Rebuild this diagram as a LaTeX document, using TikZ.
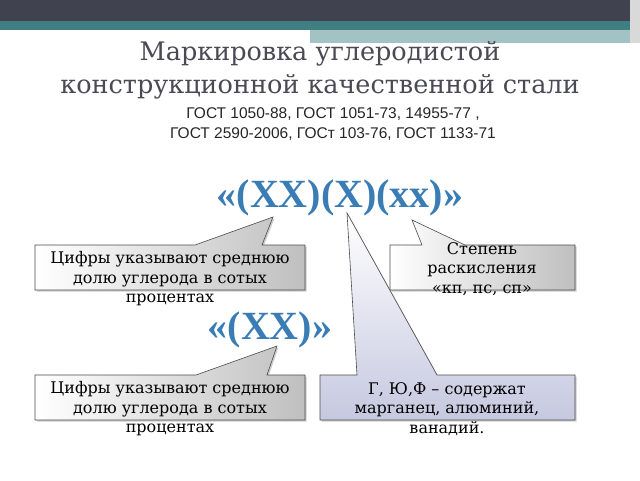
\documentclass[tikz,border=0pt]{standalone}
\usepackage{fontspec}
\setmainfont{DejaVu Serif}
\newfontfamily\gostfont{Liberation Sans}
\newfontfamily\bigfont{Liberation Serif}
\usetikzlibrary{shadows}
\definecolor{hdark}{HTML}{41424F}
\definecolor{hteal}{HTML}{3F7F82}
\definecolor{hlight}{HTML}{A3C2C4}
\definecolor{titlec}{HTML}{4A4A55}
\definecolor{bigblue}{HTML}{3A7DB5}
\definecolor{lav}{HTML}{C6C8E0}
\tikzset{
  calloutg/.style={left color=white,right color=black!25,draw=black!70,line width=0.6pt,drop shadow={shadow xshift=1.5pt,shadow yshift=-1.5pt,opacity=0.4}},
  calloutl/.style={top color=white,bottom color=lav,draw=black!70,line width=0.6pt,drop shadow={shadow xshift=1.5pt,shadow yshift=-1.5pt,opacity=0.4}},
  boxtext/.style={align=center,font=\fontsize{16}{19.5}\selectfont,text=black,inner sep=0pt},
  big/.style={font=\bigfont\bfseries\fontsize{40}{40}\selectfont,text=bigblue,inner sep=0pt}
}
\begin{document}
\begin{tikzpicture}[x=1pt,y=-1pt]
\useasboundingbox (0,0) rectangle (640,480);
\fill[white] (0,0) rectangle (640,480);
% header
\fill[hdark] (0,0) rectangle (640,21);
\fill[hteal] (0,21) rectangle (640,30);
\fill[hlight] (310,30) rectangle (640,43);
\fill[black!15] (630,0) rectangle (640,43);
% titles
\node[align=center,text=titlec,font=\fontsize{25.5}{33}\selectfont] (title) at (320,70) {Маркировка углеродистой\\конструкционной качественной стали};
\node[align=center,text=black!85,font=\gostfont\fontsize{15.5}{20}\selectfont] (gost) at (333,124) {ГОСТ 1050-88, ГОСТ 1051-73, 14955-77 ,\\ГОСТ 2590-2006, ГОСт 103-76, ГОСТ 1133-71};
% big labels
\node[big] (mark1) at (340,198) {«(XX)(X)(xx)»};
\node[big] (mark2) at (270,330) {«(XX)»};
% callouts
\path[calloutg] (35,245) -- (195,245) -- (273,217) -- (262,245) -- (305,245) -- (305,290) -- (35,290) -- cycle;
\path[calloutg] (390,245) -- (422,245) -- (412,220) -- (465,245) -- (575,245) -- (575,290) -- (390,290) -- cycle;
\path[calloutg] (35,375) -- (196,375) -- (277,346) -- (267,375) -- (305,375) -- (305,420) -- (35,420) -- cycle;
\path[calloutl] (320,375) -- (357,375) -- (347,213) -- (437,375) -- (575,375) -- (575,420) -- (320,420) -- cycle;
\node[boxtext] (t1) at (170,279) {Цифры указывают среднюю\\долю углерода в сотых\\процентах};
\node[boxtext] (t2) at (482,269) {Степень\\раскисления\\«кп, пс, сп»};
\node[boxtext] (t3) at (170,409) {Цифры указывают среднюю\\долю углерода в сотых\\процентах};
\node[boxtext] (t4) at (447,409) {Г, Ю,Ф – содержат\\марганец, алюминий,\\ванадий.};
\end{tikzpicture}
\end{document}
